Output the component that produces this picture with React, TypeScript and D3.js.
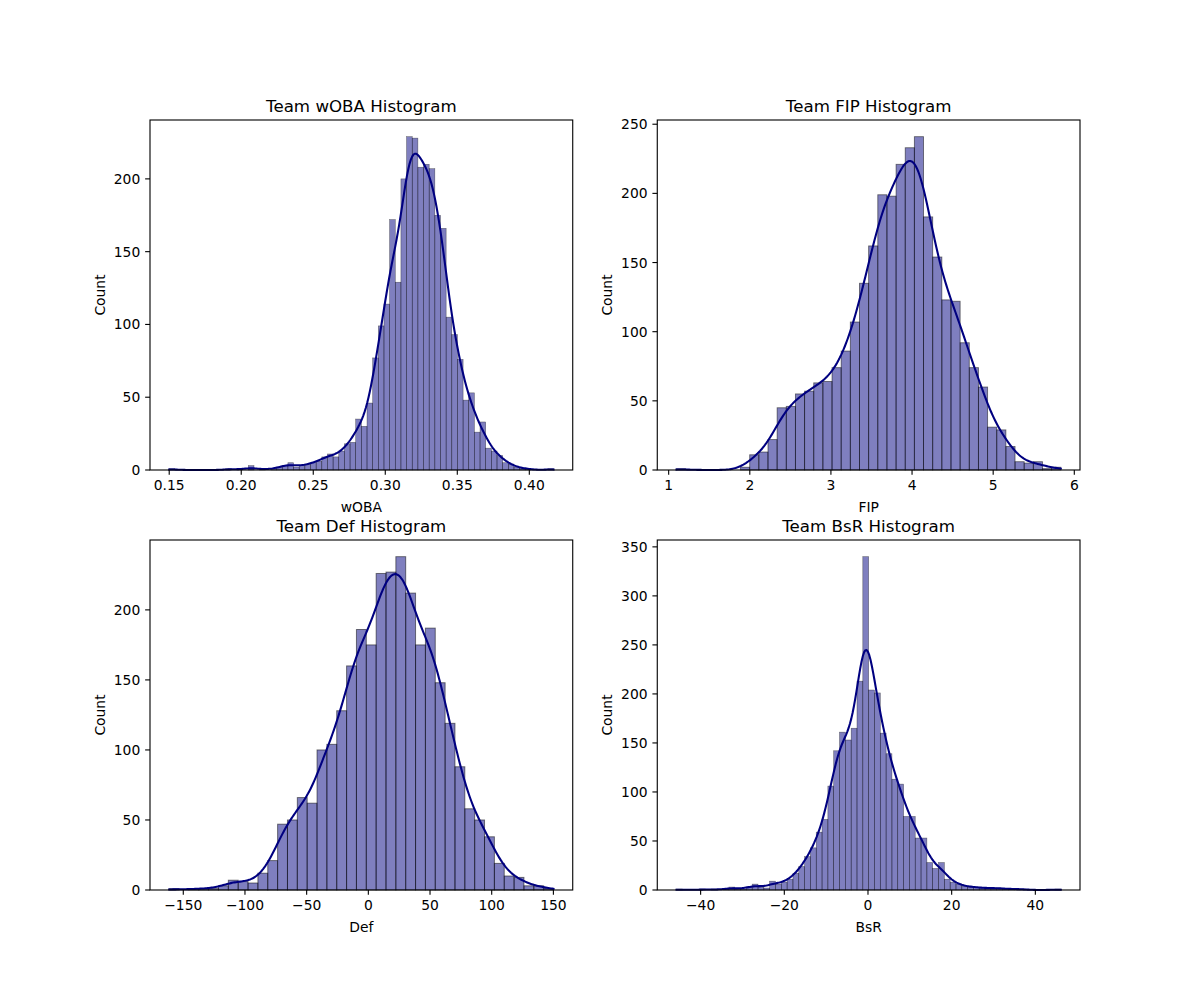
import React from 'react';
import * as d3 from 'd3';

// ---- data ----
const wobaCounts = [1,0,0,0,0,0,0,0,0,0,1,0,1,0,3,0,1,0,1,2,3,5,2,3,4,5,6,9,11,9,13,18,19,35,30,46,77,99,114,172,129,200,229,228,208,210,207,175,166,105,93,76,48,53,26,33,15,13,10,5,4,2,1,1,0,0,0,1];
const wobaRange = [0.15, 0.4168];
const wobaXTicks = [0.15, 0.2, 0.25, 0.3, 0.35, 0.4];
const wobaYTicks = [0, 50, 100, 150, 200];

const fipCounts = [1,0,0,0,0,0,0,2,11,13,22,45,46,55,57,63,64,74,86,107,135,162,199,198,221,233,241,183,154,123,122,92,74,60,31,29,17,6,5,6,1,2];
const fipRange = [1.0964, 5.8334];
const fipXTicks = [1, 2, 3, 4, 5, 6];
const fipYTicks = [0, 50, 100, 150, 200, 250];

const defCounts = [1,0,1,1,1,3,7,6,5,12,21,47,50,66,62,100,104,128,160,186,175,226,227,238,212,175,187,148,119,88,58,50,38,19,10,9,3,3,1];
const defRange = [-161.4, 150.1];
const defXTicks = [-150, -100, -50, 0, 50, 100, 150];
const defYTicks = [0, 50, 100, 150, 200];

const bsrCounts = [1,0,0,0,1,0,1,0,1,3,1,1,3,6,3,2,9,6,8,11,17,24,34,43,59,72,106,142,161,153,165,213,340,204,201,160,139,113,108,75,75,53,53,28,22,28,11,8,6,4,3,3,2,2,2,2,1,1,1,1,0,0,0,0,0,1];
const bsrRange = [-45.77, 46.08];
const bsrXTicks = [-40, -20, 0, 20, 40];
const bsrYTicks = [0, 50, 100, 150, 200, 250, 300, 350];

const FONT = "'DejaVu Sans', sans-serif";
const PT = 100 / 72;
const TICK_FS = 10 * PT;
const TITLE_FS = 12 * PT;

const minusFmt = (f: (n: number) => string) => (v: number) => f(v).replace('-', '\u2212');

function kdeCurve(counts: number[], lo: number, hi: number) {
  const nb = counts.length;
  const bw = (hi - lo) / nb;
  const centers = counts.map((_, i) => lo + (i + 0.5) * bw);
  const n = d3.sum(counts);
  const mean = d3.sum(counts.map((c, i) => c * centers[i])) / n;
  const variance = d3.sum(counts.map((c, i) => c * (centers[i] - mean) ** 2)) / (n - 1);
  const h = Math.sqrt(variance) * Math.pow(n, -0.2);
  const pts: [number, number][] = [];
  const N = 300;
  for (let k = 0; k < N; k++) {
    const x = lo + (hi - lo) * k / (N - 1);
    let s = 0;
    for (let i = 0; i < nb; i++) {
      if (!counts[i]) continue;
      const z = (x - centers[i]) / h;
      s += counts[i] * Math.exp(-0.5 * z * z);
    }
    const dens = s / (n * h * Math.sqrt(2 * Math.PI));
    pts.push([x, dens * n * bw]);
  }
  return pts;
}

type PanelProps = {
  x0: number; y0: number; w: number; h: number;
  title: string; xlabel: string;
  counts: number[]; range: number[];
  xticks: number[]; yticks: number[];
  fmt: (v: number) => string;
};

function Panel({ x0, y0, w, h, title, xlabel, counts, range, xticks, yticks, fmt }: PanelProps) {
  const [lo, hi] = range;
  const nb = counts.length;
  const bw = (hi - lo) / nb;
  const span = hi - lo;
  const xs = d3.scaleLinear().domain([lo - 0.05 * span, hi + 0.05 * span]).range([x0, x0 + w]);
  const ymax = (d3.max(counts) as number) * 1.05;
  const ys = d3.scaleLinear().domain([0, ymax]).range([y0 + h, y0]);
  const barPx = xs(lo + bw) - xs(lo);
  const sw = Math.min(0.1 * barPx, PT);
  const curve = kdeCurve(counts, lo, hi);
  const line = d3.line<[number, number]>().x(d => xs(d[0])).y(d => ys(d[1]));
  const tickLen = 3.5 * PT;
  const pad = 3.5 * PT;
  const bottom = y0 + h;
  return (
    <g>
      {counts.map((c, i) => c > 0 ? (
        <rect key={i} x={xs(lo + i * bw)} y={ys(c)} width={barPx} height={ys(0) - ys(c)}
          fill="navy" fillOpacity={0.5} stroke="black" strokeOpacity={0.5} strokeWidth={sw} />
      ) : null)}
      <path d={line(curve) || ''} fill="none" stroke="navy" strokeWidth={1.5 * PT} strokeLinejoin="round" strokeLinecap="square" />
      <rect x={x0} y={y0} width={w} height={h} fill="none" stroke="black" strokeWidth={0.8 * PT} />
      {xticks.map(t => (
        <g key={'x' + t}>
          <line x1={xs(t)} x2={xs(t)} y1={bottom} y2={bottom + tickLen} stroke="black" strokeWidth={0.8 * PT} />
          <text x={xs(t)} y={bottom + tickLen + pad + 10.6} fontSize={TICK_FS} fontFamily={FONT} textAnchor="middle">{fmt(t)}</text>
        </g>
      ))}
      {yticks.map(t => (
        <g key={'y' + t}>
          <line x1={x0 - tickLen} x2={x0} y1={ys(t)} y2={ys(t)} stroke="black" strokeWidth={0.8 * PT} />
          <text x={x0 - tickLen - pad} y={ys(t) + 5} fontSize={TICK_FS} fontFamily={FONT} textAnchor="end">{String(t)}</text>
        </g>
      ))}
      <text x={x0 + w / 2} y={bottom + 41.5} fontSize={TICK_FS} fontFamily={FONT} textAnchor="middle">{xlabel}</text>
      <text transform={`translate(${x0 - 45},${y0 + h / 2}) rotate(-90)`} fontSize={TICK_FS} fontFamily={FONT} textAnchor="middle">Count</text>
      <text x={x0 + w / 2} y={y0 - 6 * PT} fontSize={TITLE_FS} fontFamily={FONT} textAnchor="middle">{title}</text>
    </g>
  );
}

export default function App() {
  const W = 1200, H = 1000;
  const left = 0.125 * W, right = 0.9 * W, top = (1 - 0.88) * H, bot = (1 - 0.11) * H;
  const pw = (right - left) / 2.2;
  const ph = (bot - top) / 2.2;
  const colX = [left, left + pw * 1.2];
  const rowY = [top, top + ph * 1.2];
  const f2 = d3.format('.2f');
  const fd = minusFmt(d3.format('d'));
  return (
    <svg width={W} height={H} style={{ position: 'absolute', left: 0, top: 0, background: 'white' }}>
      <rect width={W} height={H} fill="white" />
      <Panel x0={colX[0]} y0={rowY[0]} w={pw} h={ph} title="Team wOBA Histogram" xlabel="wOBA"
        counts={wobaCounts} range={wobaRange} xticks={wobaXTicks} yticks={wobaYTicks} fmt={f2} />
      <Panel x0={colX[1]} y0={rowY[0]} w={pw} h={ph} title="Team FIP Histogram" xlabel="FIP"
        counts={fipCounts} range={fipRange} xticks={fipXTicks} yticks={fipYTicks} fmt={fd} />
      <Panel x0={colX[0]} y0={rowY[1]} w={pw} h={ph} title="Team Def Histogram" xlabel="Def"
        counts={defCounts} range={defRange} xticks={defXTicks} yticks={defYTicks} fmt={fd} />
      <Panel x0={colX[1]} y0={rowY[1]} w={pw} h={ph} title="Team BsR Histogram" xlabel="BsR"
        counts={bsrCounts} range={bsrRange} xticks={bsrXTicks} yticks={bsrYTicks} fmt={fd} />
    </svg>
  );
}
